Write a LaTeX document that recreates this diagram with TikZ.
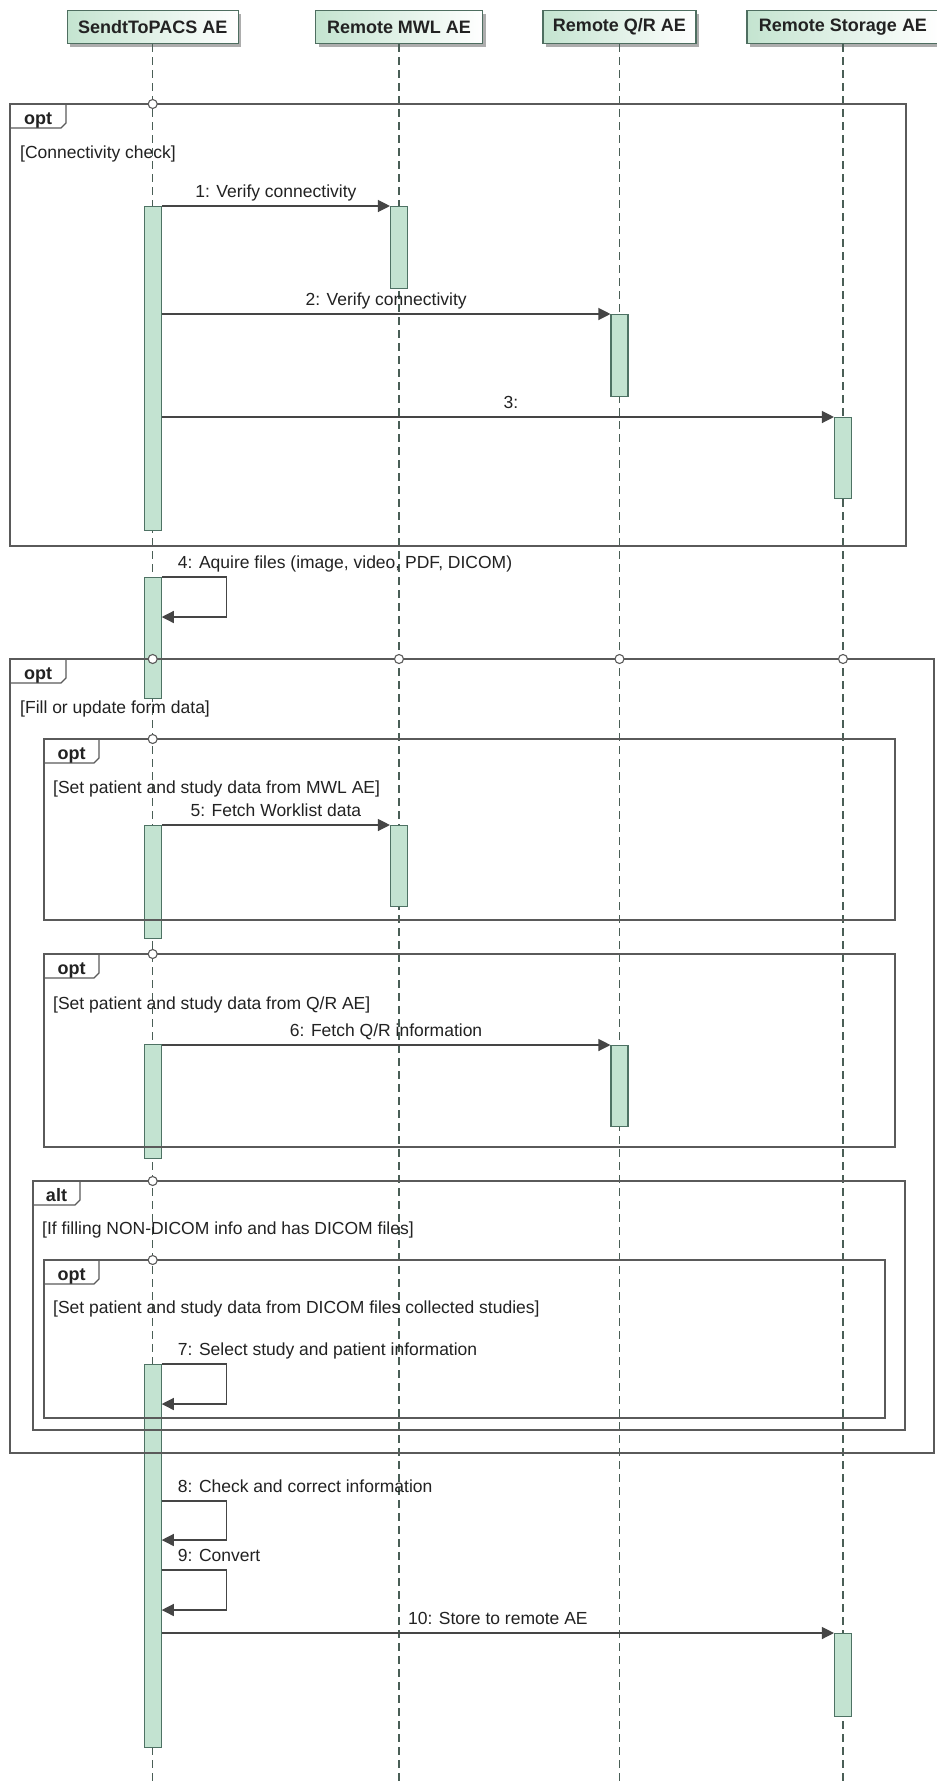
\documentclass[tikz,border=0pt]{standalone}
\usepackage{fontspec}
\setmainfont{Liberation Sans}
\usetikzlibrary{arrows.meta,shadows}
\definecolor{actfill}{HTML}{C3E3D1}
\definecolor{actdraw}{HTML}{4E7264}
\definecolor{lifecol}{HTML}{4A5E56}
\definecolor{framecol}{HTML}{5A5A5A}
\definecolor{msgcol}{HTML}{454545}
\definecolor{txt}{HTML}{222222}
\definecolor{hdrgreen}{HTML}{C4E4D0}
\definecolor{hdrdraw}{HTML}{4E6E60}
\tikzset{
  hdr/.style={draw=hdrdraw, line width=1.1pt, left color=hdrgreen, right color=white,
    minimum height=33pt, inner sep=0pt, anchor=north,
    font=\bfseries\fontsize{18}{21}\selectfont, text=txt,
    drop shadow={shadow xshift=3pt, shadow yshift=-3pt, fill=black!40, opacity=0.8}},
  lifeline/.style={draw=lifecol, line width=1.2pt, dash pattern=on 8pt off 5pt},
  actbox/.style={draw=actdraw, fill=actfill, line width=1.1pt, minimum width=17pt,
    inner sep=0pt, anchor=north},
  frameline/.style={draw=framecol, line width=1.3pt},
  taglbl/.style={font=\bfseries\fontsize{18}{21}\selectfont, text=txt, inner sep=0pt, anchor=base},
  lbl/.style={font=\fontsize{17.5}{20}\selectfont, text=txt, inner sep=0pt},
  guard/.style={lbl, anchor=base west},
  msg/.style={draw=msgcol, line width=1.2pt, -{Triangle[length=12pt,width=12pt]}},
  gate/.style={circle, draw=framecol, fill=white, line width=1.1pt, minimum size=9pt, inner sep=0pt}
}
\newcommand\sqframe[6]{%
  \draw[frameline] (#1,#2) rectangle (#3,#4);
  \draw[frameline] (#1,#2) -- ++(#6,0) -- ++(0,19) -- ++(-5,5) -- (#1,#2+24);
  \node[taglbl] at (#1+#6/2,#2+20) {#5};
}
\begin{document}
\begin{tikzpicture}[x=1pt,y=-1pt]
\fill[white] (0,0) rectangle (937,1783);
\useasboundingbox (0,0) rectangle (937,1783);

% headers
\node[hdr, minimum width=171pt] (h1) at (152.7,10) {SendtToPACS AE};
\node[hdr, minimum width=167pt] (h2) at (399,10) {Remote MWL AE};
\node[hdr, minimum width=153pt] (h3) at (619.5,10) {Remote Q/R AE};
\node[hdr, minimum width=192pt] (h4) at (843,10) {Remote Storage AE};

\coordinate (e1) at (152.7,1783);
\coordinate (e2) at (399,1783);
\coordinate (e3) at (619.5,1783);
\coordinate (e4) at (843,1783);

% lifelines
\draw[lifeline] (h1.south) -- (e1);
\draw[lifeline] (h2.south) -- (e2);
\draw[lifeline] (h3.south) -- (e3);
\draw[lifeline] (h4.south) -- (e4);

% activations
\node[actbox, minimum height=324pt] (a1) at (152.7,206) {};
\node[actbox, minimum height=121pt] (a2) at (152.7,577) {};
\node[actbox, minimum height=113pt] (a3) at (152.7,825) {};
\node[actbox, minimum height=114pt] (a4) at (152.7,1044) {};
\node[actbox, minimum height=383pt] (a5) at (152.7,1364) {};
\node[actbox, minimum height=82pt] (m1) at (399,206) {};
\node[actbox, minimum height=81pt] (m2) at (399,825) {};
\node[actbox, minimum height=82pt] (q1) at (619.5,314) {};
\node[actbox, minimum height=81pt] (q2) at (619.5,1045) {};
\node[actbox, minimum height=81pt] (s1) at (843,417) {};
\node[actbox, minimum height=83pt] (s2) at (843,1633) {};

% frames
\sqframe{10}{104}{906}{546}{opt}{56}
\node[guard] at (20,158) {[Connectivity check]};
\node[gate] at (152.7,104) {};

\sqframe{10}{659}{934}{1453}{opt}{56}
\node[guard] at (20,713) {[Fill or update form data]};
\node[gate] at (152.7,659) {};
\node[gate] at (399,659) {};
\node[gate] at (619.5,659) {};
\node[gate] at (843,659) {};

\sqframe{44}{739}{895}{920}{opt}{55}
\node[guard] at (53,793) {[Set patient and study data from MWL AE]};
\node[gate] at (152.7,739) {};

\sqframe{44}{954}{895}{1147}{opt}{55}
\node[guard] at (53,1009) {[Set patient and study data from Q/R AE]};
\node[gate] at (152.7,954) {};

\sqframe{33}{1181}{905}{1430}{alt}{47}
\node[guard] at (42,1234) {[If filling NON-DICOM info and has DICOM files]};
\node[gate] at (152.7,1181) {};

\sqframe{44}{1260}{885}{1418}{opt}{55}
\node[guard] at (53,1313) {[Set patient and study data from DICOM files collected studies]};
\node[gate] at (152.7,1260) {};

% messages
\draw[msg] (a1.north east) -- node[lbl, anchor=base, yshift=9pt] {1: Verify connectivity} (m1.north west);
\draw[msg] (a1.east |- q1.north) -- node[lbl, anchor=base, yshift=9pt] {2: Verify connectivity} (q1.north west);
\draw[msg] (a1.east |- s1.north) -- node[lbl, anchor=base, yshift=9pt, xshift=13pt] {3:} (s1.north west);

\draw[msg] (a2.north east) -- ++(65,0) -- ++(0,40) -- ++(-65,0);
\node[lbl, anchor=base west] at ([xshift=16pt,yshift=9pt]a2.north east) {4: Aquire files (image, video, PDF, DICOM)};

\draw[msg] (a3.north east) -- node[lbl, anchor=base, yshift=9pt] {5: Fetch Worklist data} (m2.north west);
\draw[msg] (a4.east |- q2.north) -- node[lbl, anchor=base, yshift=9pt] {6: Fetch Q/R information} (q2.north west);

\draw[msg] (a5.north east) -- ++(65,0) -- ++(0,40) -- ++(-65,0);
\node[lbl, anchor=base west] at ([xshift=16pt,yshift=9pt]a5.north east) {7: Select study and patient information};

\draw[msg] ([yshift=-137pt]a5.north east) -- ++(65,0) -- ++(0,39) -- ++(-65,0);
\node[lbl, anchor=base west] at ([xshift=16pt,yshift=-128pt]a5.north east) {8: Check and correct information};

\draw[msg] ([yshift=-206pt]a5.north east) -- ++(65,0) -- ++(0,40) -- ++(-65,0);
\node[lbl, anchor=base west] at ([xshift=16pt,yshift=-197pt]a5.north east) {9: Convert};

\draw[msg] (a5.east |- s2.north) -- node[lbl, anchor=base, yshift=9pt] {10: Store to remote AE} (s2.north west);
\end{tikzpicture}
\end{document}
